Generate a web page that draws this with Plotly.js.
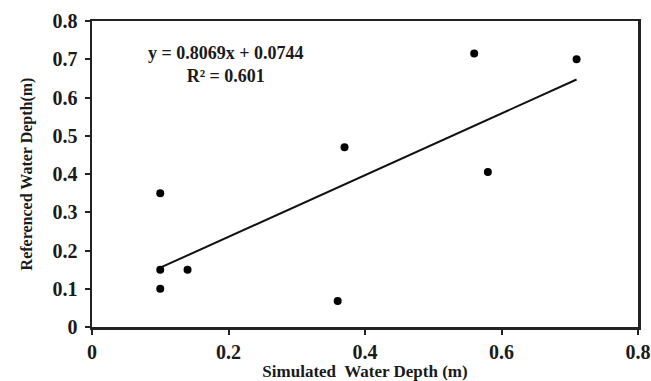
<!DOCTYPE html>
<html><head><meta charset="utf-8">
<script src="https://cdn.plot.ly/plotly-3.0.1.min.js"></script>
<style>html,body{margin:0;padding:0;background:#fff}</style>
</head><body>
<div id="chart" style="width:651px;height:381px"></div>
<script>
const simulated = [0.10, 0.10, 0.10, 0.14, 0.36, 0.37, 0.56, 0.58, 0.71];
const referenced = [0.35, 0.15, 0.10, 0.15, 0.068, 0.47, 0.715, 0.405, 0.70];
const trendX = [0.10, 0.71];
const trendY = [0.155, 0.647];
const tickVals = [0, 0.1, 0.2, 0.3, 0.4, 0.5, 0.6, 0.7, 0.8];
const xTickVals = [0, 0.2, 0.4, 0.6, 0.8];
const xTickText = ['0', '0.2', '0.4', '0.6', '0.8'];
const yTickText = ['0', '0.1', '0.2', '0.3', '0.4', '0.5', '0.6', '0.7', '0.8'];
const eqText = 'y = 0.8069x + 0.0744<br>R² = 0.601';

const fam = '"Liberation Serif", "Times New Roman", serif';
const col = '#1a1a1a';

const data = [
  {x: trendX, y: trendY, mode: 'lines', line: {color: '#111', width: 2}, showlegend: false, hoverinfo: 'skip'},
  {x: simulated, y: referenced, mode: 'markers', marker: {color: '#000', size: 8}, showlegend: false}
];
const layout = {
  width: 651, height: 381,
  margin: {l: 92, r: 13, t: 21, b: 54},
  paper_bgcolor: '#fff', plot_bgcolor: '#fff',
  font: {family: fam, color: col, size: 20, weight: 'bold'},
  xaxis: {
    range: [0, 0.8], tickvals: xTickVals, ticktext: xTickText,
    showgrid: false, zeroline: false,
    showline: true, linecolor: '#222', linewidth: 2.5, mirror: true,
    ticks: 'outside', ticklen: 5, tickwidth: 2, tickcolor: '#222',
    tickfont: {family: fam, size: 20, color: col, weight: 'bold'},
    title: {text: 'Simulated  Water Depth (m)', standoff: 1, font: {family: fam, size: 17, color: col, weight: 'bold'}}
  },
  yaxis: {
    range: [0, 0.8], tickvals: tickVals, ticktext: yTickText,
    showgrid: false, zeroline: false,
    showline: true, linecolor: '#222', linewidth: 2.5, mirror: true,
    ticks: 'outside', ticklen: 5, tickwidth: 2, tickcolor: '#222',
    ticklabelstandoff: 3,
    tickfont: {family: fam, size: 20, color: col, weight: 'bold'},
    title: {text: 'Referenced Water Depth(m)', standoff: 16, font: {family: fam, size: 16, color: col, weight: 'bold'}}
  },
  annotations: [{
    xref: 'paper', yref: 'paper', x: 0.245, y: 0.935, xanchor: 'center', yanchor: 'top',
    text: eqText, showarrow: false, align: 'center',
    font: {family: fam, size: 18, color: col, weight: 'bold'}
  }]
};
Plotly.newPlot('chart', data, layout, {displayModeBar: false, staticPlot: true});
</script>
</body></html>
